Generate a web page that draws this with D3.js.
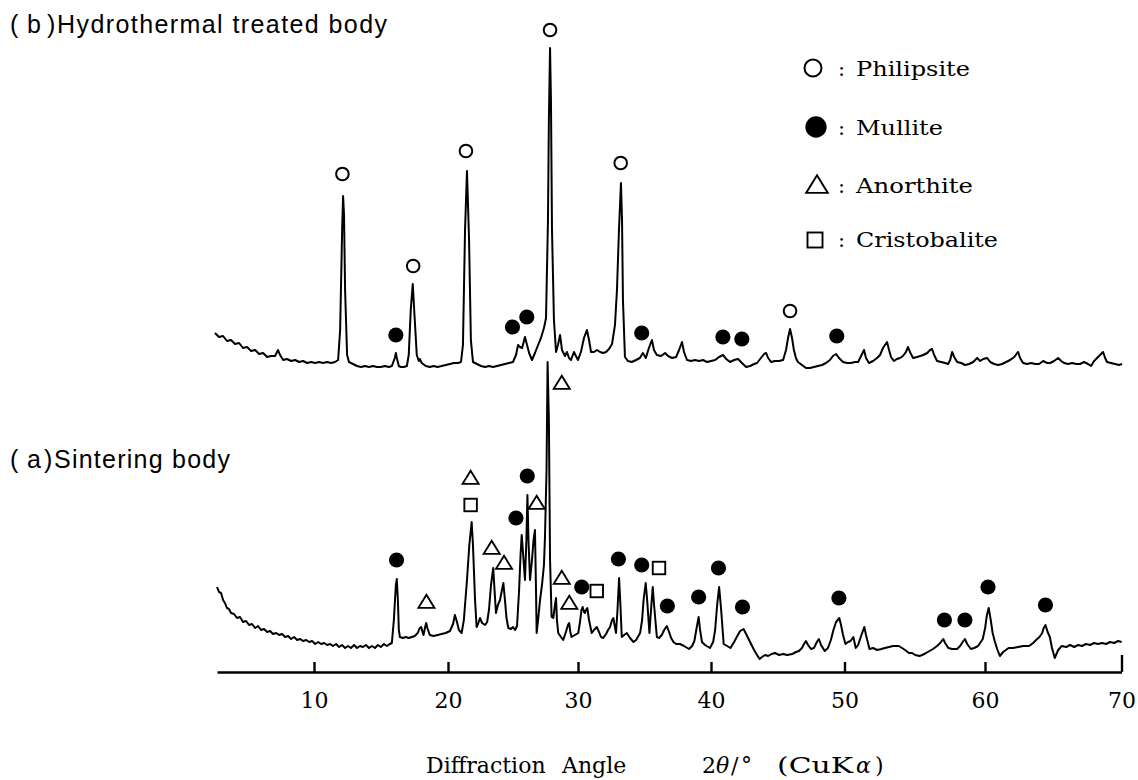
<!DOCTYPE html>
<html>
<head>
<meta charset="utf-8">
<script src="https://cdn.jsdelivr.net/npm/d3@7"></script>
<style>
  body { margin: 0; background: #fff; }
  svg { display: block; }
</style>
</head>
<body>
<svg id="chart" width="1138" height="780"></svg>
<script>
// ---- (b) Hydrothermal treated body : 2θ (deg) and intensity (a.u.) ----
const angleB = [2.65,2.95,3.25,3.54,3.84,4.14,4.44,4.73,5.03,5.33,5.63,5.92,6.22,6.52,6.81,7.11,7.33,7.48,7.71,8.00,8.30,8.60,8.90,9.19,9.49,9.79,10.09,10.38,10.68,10.98,11.28,11.57,11.80,11.95,12.10,12.17,12.24,12.32,12.47,12.61,12.91,13.21,13.51,13.80,14.10,14.40,14.70,14.99,15.29,15.59,15.81,16.03,16.11,16.18,16.33,16.48,16.70,16.93,17.07,17.22,17.37,17.52,17.67,17.82,17.89,18.04,18.34,18.64,18.93,19.23,19.53,19.83,
  20.15,20.46,20.77,21.00,21.15,21.31,21.46,21.62,21.76,21.92,22.23,22.54,22.85,23.15,23.46,23.77,24.08,24.38,24.69,25.00,25.23,25.39,25.54,25.70,25.92,26.08,26.24,26.46,26.69,26.93,27.15,27.38,27.54,27.69,27.76,27.85,27.92,28.00,28.15,28.31,28.46,28.62,28.77,29.00,29.15,29.31,29.46,29.69,29.84,30.00,30.22,30.45,30.67,30.83,30.98,31.20,31.43,31.66,31.88,32.11,32.33,32.56,32.78,32.93,33.08,33.23,33.31,33.38,33.53,33.75,34.05,34.36,34.65,34.88,35.10,35.33,35.56,35.71,35.93,36.24,36.55,36.77,37.07,37.38,37.60,37.82,37.97,38.20,38.50,38.80,39.11,39.40,39.70,40.01,40.31,40.60,40.90,41.14,41.43,41.73,42.03,42.32,42.63,42.93,43.23,43.45,43.74,43.97,44.13,44.28,44.50,44.80,45.09,45.40,45.62,45.77,45.92,46.07,46.21,46.36,46.51,46.81,47.12,47.41,47.71,48.01,48.32,48.61,48.91,49.13,49.37,49.59,49.89,50.18,50.46,50.75,50.97,51.18,51.39,51.53,51.74,52.03,52.32,52.53,52.74,53.03,53.17,53.31,53.52,53.73,53.95,54.16,54.37,54.52,54.66,54.88,55.17,55.39,55.60,55.89,56.09,56.23,56.38,56.59,56.88,57.16,57.37,57.52,57.66,57.81,58.02,58.31,58.59,58.87,59.16,59.44,59.66,59.87,60.16,60.38,60.67,60.96,61.25,61.55,61.84,62.14,62.36,62.43,62.57,62.79,63.08,63.38,63.68,63.96,64.26,64.55,64.77,65.06,65.36,65.58,65.79,66.09,66.38,66.68,66.96,67.26,67.55,67.77,67.99,68.21,68.43,68.65,68.80,68.94,69.23,69.53,69.82,70.04];
const countsB = [47,43,44,39,40,36,37,32,33,29,30,26,27,23,24,24,30,25,20,21,19,20,18,19,17,18,17,18,17,18,17,18,20,50,150,184,165,90,25,18,16,14,13,14,13,14,13,13,14,13,14,22,27,22,14,13,13,14,25,70,96,60,25,19,21,17,14,13,14,13,14,15,
  16,17,17,18,35,150,209,140,40,18,16,14,13,14,13,14,15,16,17,18,25,35,33,32,43,35,27,20,27,35,42,52,62,160,260,332,280,150,60,28,35,45,30,24,28,22,20,28,24,20,28,42,50,40,28,28,30,28,27,28,31,36,55,90,150,197,160,80,23,19,18,20,22,27,22,32,40,30,25,24,27,24,22,23,30,38,28,20,19,20,19,20,18,19,20,23,25,21,18,20,21,17,13,14,16,17,22,26,27,22,18,19,19,20,30,42,51,42,30,22,18,15,12,12,13,14,15,17,20,24,26,22,18,17,17,18,18,24,30,22,17,19,22,25,32,38,30,23,19,21,22,24,28,33,28,22,23,24,25,27,30,31,25,19,18,17,16,20,28,23,18,17,15,16,18,22,19,21,22,18,16,15,16,18,20,23,27,28,22,17,16,17,16,16,19,17,17,19,22,19,17,16,17,16,16,18,16,14,19,22,25,28,22,18,17,16,15,16];

// ---- (a) Sintering body : 2θ (deg) and intensity (a.u.) ----
const angleA = [2.80,2.95,3.10,3.25,3.39,3.54,3.69,3.84,4.06,4.29,4.51,4.73,4.96,5.18,5.40,5.63,5.85,6.07,6.29,6.52,6.74,6.96,7.19,7.41,7.63,7.86,8.08,8.30,8.52,8.75,8.97,9.19,9.42,9.64,9.86,10.09,10.31,10.53,10.76,10.98,11.20,11.42,11.65,11.87,12.09,12.32,12.54,12.76,12.99,13.21,13.43,13.65,13.88,14.10,14.32,14.55,14.77,14.99,15.22,15.44,15.66,15.81,15.96,16.11,16.18,16.26,16.33,16.41,16.63,16.85,17.07,17.30,17.52,17.74,17.89,18.00,18.10,18.17,18.28,18.37,18.46,18.64,18.93,19.23,19.53,19.83,
  20.15,20.39,20.53,20.69,20.84,21.05,21.22,21.46,21.64,21.82,21.92,22.08,22.20,22.31,22.46,22.62,22.85,23.01,23.15,23.31,23.48,23.58,23.69,23.84,24.00,24.15,24.26,24.38,24.50,24.64,24.84,25.00,25.16,25.31,25.47,25.58,25.67,25.81,25.92,26.03,26.11,26.19,26.31,26.46,26.58,26.69,26.77,26.82,26.93,27.08,27.23,27.38,27.46,27.58,27.66,27.76,27.85,27.97,28.10,28.23,28.31,28.38,28.48,28.69,28.86,29.07,29.23,29.32,29.41,29.50,29.76,30.02,30.15,30.26,30.35,30.45,30.52,30.59,30.70,30.83,31.03,31.20,31.41,31.58,31.73,31.90,32.11,32.26,32.41,32.56,32.66,32.75,32.86,32.97,33.09,33.19,33.29,33.47,33.67,33.91,34.17,34.37,34.67,34.82,34.93,35.09,35.20,35.37,35.49,35.62,35.72,35.93,36.10,36.30,36.48,36.68,36.85,37.00,37.18,37.38,37.67,37.97,38.35,38.58,38.75,38.92,39.07,39.18,39.32,39.55,39.92,40.16,40.31,40.46,40.61,40.76,40.95,41.21,41.46,41.73,41.97,42.18,42.44,42.63,42.78,43.00,43.23,43.45,43.64,43.82,44.05,44.28,44.54,44.80,45.10,45.40,45.70,46.09,46.37,46.59,46.81,46.97,47.11,47.27,47.49,47.71,47.93,48.08,48.24,48.52,48.76,48.98,49.17,49.37,49.61,49.74,49.89,50.07,50.25,50.43,50.63,50.80,50.97,51.18,51.41,51.53,51.78,52.03,52.32,52.63,52.88,53.17,53.46,53.86,54.10,54.31,54.59,54.81,55.03,55.33,55.53,55.81,56.05,56.30,56.59,56.81,57.03,57.16,57.39,57.66,58.01,58.23,58.41,58.57,58.73,58.99,59.23,59.51,59.84,60.01,60.14,60.27,60.42,60.56,60.71,60.89,61.09,61.33,61.73,62.06,62.43,62.80,63.23,63.53,63.74,63.99,64.19,64.30,64.43,64.59,64.75,64.91,65.11,65.36,65.62,65.95,66.24,66.53,66.82,67.11,67.40,67.70,67.99,68.28,68.58,68.87,69.16,69.46,69.75,70.01];
const countsA = [73,68,67,60,57,52,51,47,46,42,43,38,39,35,36,32,34,30,31,28,29,26,27,25,26,23,24,21,23,20,21,19,20,18,19,16,18,16,17,15,16,14,16,13,15,12,14,12,15,12,14,13,15,12,14,12,15,13,16,14,16,17,40,75,81,60,30,23,22,23,22,23,24,27,32,33,28,25,32,37,32,25,24,25,26,27,
  29,36,45,38,30,27,40,80,115,138,115,60,33,36,42,37,35,38,50,75,92,70,47,55,60,70,77,60,42,32,31,33,30,34,70,105,125,100,80,120,165,120,80,100,120,130,70,27,40,60,75,95,123,190,298,240,100,43,42,55,62,40,27,23,20,28,35,37,28,23,25,27,38,50,53,48,47,50,52,40,27,30,33,28,23,22,26,30,33,40,42,35,27,50,82,55,23,25,27,22,18,20,27,40,60,77,60,27,50,73,55,23,22,25,30,34,28,22,18,16,16,14,11,14,19,32,43,30,18,15,12,18,30,55,73,50,16,14,12,18,24,29,31,26,22,16,10,5,1,3,5,4,6,7,5,6,5,6,8,9,12,16,19,15,11,12,18,21,15,9,12,20,30,38,42,35,25,16,18,19,23,12,15,24,33,25,11,12,10,11,12,13,14,14,12,10,7,7,5,4,5,7,9,11,14,17,21,17,12,11,11,14,18,21,16,11,12,14,21,32,45,52,40,27,19,11,4,8,12,12,13,14,14,17,20,23,27,32,35,28,23,12,2,10,14,13,15,13,15,14,16,15,17,16,17,16,18,17,19,18];

// ---- phase identification marks: phase code, 2θ, height of mark (a.u.) ----
// P = Philipsite, M = Mullite, A = Anorthite, C = Cristobalite
const markPhaseB = ["P","M","P","P","M","M","P","P","M","M","M","P","M"];
const markAngleB = [12.12,16.11,17.40,21.38,24.96,26.06,27.85,33.21,34.79,40.89,42.31,45.92,49.42];
const markLevelB = [206,45,114,229,53,63,350,217,47,43,41,69,44];

const markPhaseA = ["M","A","C","A","A","A","M","M","A","A","A","A","M","C","M","M","C","M","M","M","M","M","M","M","M","M"];
const markAngleA = [16.16,18.39,21.74,21.74,23.36,24.31,25.23,26.10,26.82,28.75,28.75,29.33,30.28,31.41,33.04,34.79,36.09,36.72,39.07,40.56,42.36,49.58,57.11,58.57,60.22,64.43];
const markLevelA = [100,58,155,182,112,97,142,184,157,277,82,57,73,69,101,95,92,54,63,92,53,62,40,40,73,55];

// ---- axis and legend text ----
const tickValues = [10, 20, 30, 40, 50, 60, 70];
const legendCodes = ["P", "M", "A", "C"];
const legendNames = ["Philipsite", "Mullite", "Anorthite", "Cristobalite"];

const svg = d3.select("#chart");
const SERIF = "'DejaVu Serif', 'Liberation Serif', serif";
const SANS = "'Liberation Sans', Arial, sans-serif";

// 2θ scale calibrated on the printed tick marks (piecewise linear);
// each pattern has its own vertical offset
const x = d3.scaleLinear()
  .domain([2.8, 10, 20, 30, 40, 50, 60, 70])
  .range([217, 314, 448, 578, 711, 844.5, 985, 1121.5]);
const yB = d3.scaleLinear().domain([0, 380]).range([380, 0]);
const yA = d3.scaleLinear().domain([0, 300]).range([660, 360]);

const traceB = angleB.map((a, i) => [a, countsB[i]]);
const traceA = angleA.map((a, i) => [a, countsA[i]]);

const lineB = d3.line().defined(d => d[1] != null).x(d => x(d[0])).y(d => yB(d[1]));
const lineA = d3.line().defined(d => d[1] != null).x(d => x(d[0])).y(d => yA(d[1]));

svg.append("path").attr("d", lineB(traceB))
  .attr("fill", "none").attr("stroke", "#000").attr("stroke-width", 2)
  .attr("stroke-linejoin", "round");
svg.append("path").attr("d", lineA(traceA))
  .attr("fill", "none").attr("stroke", "#000").attr("stroke-width", 2)
  .attr("stroke-linejoin", "round");

// phase symbols
function drawSymbol(g, code, cx, cy, s) {
  if (code === "P") {
    g.append("circle").attr("cx", cx).attr("cy", cy).attr("r", 6.3 * s)
      .attr("fill", "#fff").attr("stroke", "#000").attr("stroke-width", 2 * Math.min(s, 1));
  } else if (code === "M") {
    g.append("circle").attr("cx", cx).attr("cy", cy).attr("r", 7.6 * s).attr("fill", "#000");
  } else if (code === "A") {
    const w = 8 * s, h = 13 * s;
    g.append("path")
      .attr("d", `M${cx},${cy - h * 0.55}L${cx + w},${cy + h * 0.45}L${cx - w},${cy + h * 0.45}Z`)
      .attr("fill", "#fff").attr("stroke", "#000").attr("stroke-width", 1.9 * Math.min(s, 1))
      .attr("stroke-linejoin", "miter");
  } else if (code === "C") {
    const a = 12.5 * s;
    g.append("rect").attr("x", cx - a / 2).attr("y", cy - a / 2).attr("width", a).attr("height", a)
      .attr("fill", "#fff").attr("stroke", "#000").attr("stroke-width", 1.9 * Math.min(s, 1));
  }
}

const marks = svg.append("g");
markPhaseB.forEach((p, i) => drawSymbol(marks, p, x(markAngleB[i]), yB(markLevelB[i]), 1));
markPhaseA.forEach((p, i) => drawSymbol(marks, p, x(markAngleA[i]), yA(markLevelA[i]), 1));

// 2θ axis: ticks point up, labels below
const axisY = 672;
const axis = d3.axisBottom(x).tickValues(tickValues).tickSizeInner(-10).tickSizeOuter(0)
  .tickPadding(20).tickFormat(d3.format("d"));
const axG = svg.append("g").attr("transform", `translate(0,${axisY})`).call(axis);
axG.select(".domain").attr("stroke", "#000").attr("stroke-width", 2.6);
axG.selectAll(".tick line").attr("stroke", "#000").attr("stroke-width", 2.4)
  .attr("y2", d => d === 70 ? -17 : -10);
axG.selectAll(".tick text").attr("font-family", SERIF).attr("font-size", 22).attr("fill", "#000");

// axis title
const tg = svg.append("g").attr("font-family", SERIF).attr("font-size", 22).attr("fill", "#000");
tg.append("text").attr("x", 426).attr("y", 773).text("Diffraction");
tg.append("text").attr("x", 562).attr("y", 773).text("Angle");
tg.append("text").attr("x", 702).attr("y", 773).text("2");
tg.append("text").attr("x", 716).attr("y", 773).attr("font-style", "italic").text("θ");
tg.append("text").attr("x", 731).attr("y", 773).text("/");
tg.append("text").attr("x", 741).attr("y", 773).text("°");
tg.append("text").attr("x", 777).attr("y", 773).attr("textLength", 76)
  .attr("lengthAdjust", "spacingAndGlyphs").text("(CuK");
tg.append("text").attr("x", 856).attr("y", 773).attr("font-style", "italic").text("α");
tg.append("text").attr("x", 875).attr("y", 773).text(")");

// pattern titles
function panelTitle(letter, name, baseY, closeX, nameX, nameLen) {
  const g = svg.append("g").attr("font-family", SANS).attr("font-size", 25).attr("fill", "#000");
  g.append("text").attr("x", 10).attr("y", baseY).text("(");
  g.append("text").attr("x", 27).attr("y", baseY).text(letter);
  g.append("text").attr("x", closeX).attr("y", baseY).text(")");
  g.append("text").attr("x", nameX).attr("y", baseY).attr("textLength", nameLen)
    .attr("lengthAdjust", "spacing").text(name);
}
panelTitle("b", "Hydrothermal treated body", 33, 47, 57, 330);
panelTitle("a", "Sintering body", 468, 44, 54, 176);

// legend
const legendSymX = [813, 816, 817, 815];
const legendSymY = [68, 127, 185, 240];
const legendBase = [76, 135, 193, 247];
const legendLen = [114, 87, 117, 142];
const lg = svg.append("g");
legendCodes.forEach((c, i) => {
  const s = c === "P" ? 1.35 : c === "M" ? 1.4 : c === "A" ? 1.35 : 1.2;
  drawSymbol(lg, c, legendSymX[i], legendSymY[i], s);
  lg.append("text").attr("x", 838).attr("y", legendBase[i])
    .attr("font-family", SERIF).attr("font-size", 21).text(":");
  lg.append("text").attr("x", 856).attr("y", legendBase[i])
    .attr("font-family", SERIF).attr("font-size", 21)
    .attr("textLength", legendLen[i]).attr("lengthAdjust", "spacingAndGlyphs").text(legendNames[i]);
});
</script>
</body>
</html>
